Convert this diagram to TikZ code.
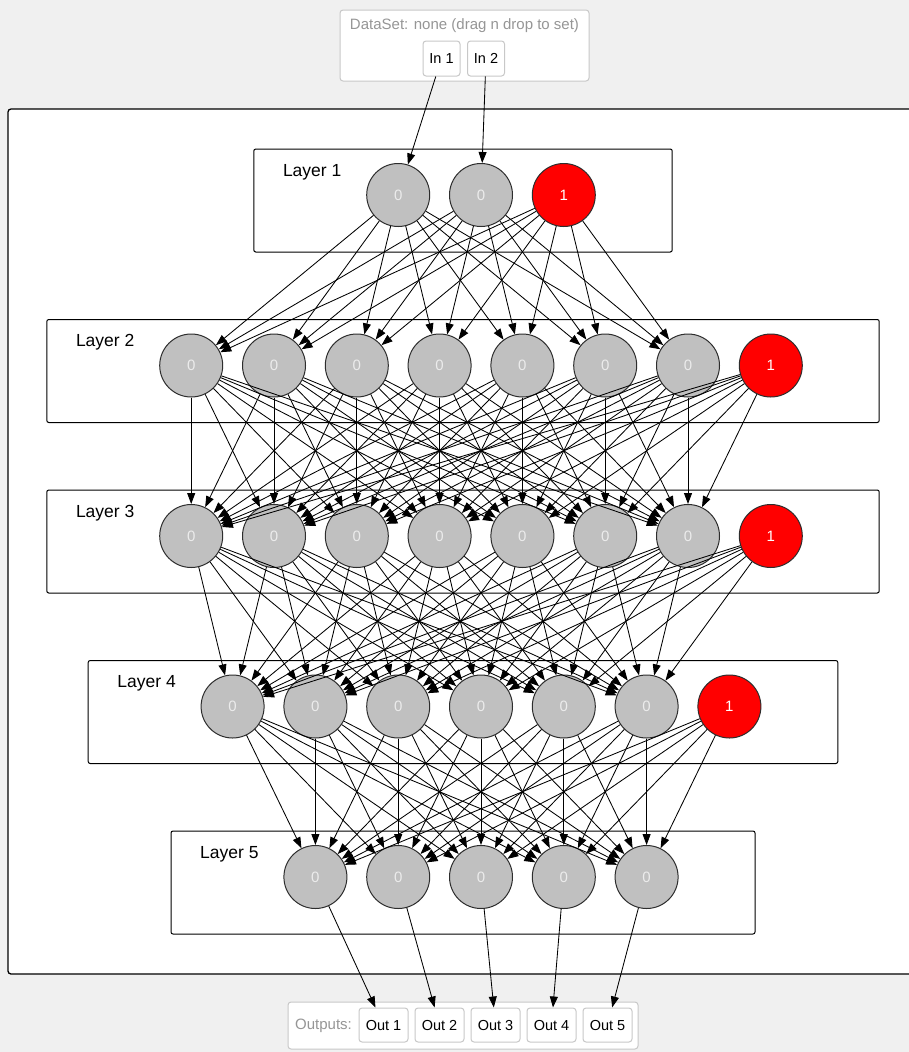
\documentclass[tikz,border=0pt]{standalone}
\usepackage{fontspec}
\setmainfont{Liberation Sans}
\usetikzlibrary{arrows.meta}
\definecolor{bg}{RGB}{240,240,240}
\definecolor{neuron}{RGB}{192,192,192}
\definecolor{bias}{RGB}{255,0,0}
\definecolor{ringgray}{RGB}{45,45,45}
\definecolor{boxgray}{RGB}{200,200,200}
\definecolor{labgray}{RGB}{150,150,150}
\definecolor{zerotext}{RGB}{236,236,236}
\tikzset{
  neuronnode/.style={circle, draw=ringgray, line width=1pt, fill=neuron, minimum size=63pt, inner sep=0pt, text=zerotext, font=\fontsize{15}{17}\selectfont},
  biasnode/.style={neuronnode, fill=bias, text=white},
  layerbox/.style={draw=black, line width=1pt, fill=white, rounded corners=2pt},
  outerbox/.style={draw=black, line width=1.3pt, fill=white, rounded corners=3pt},
  containerbox/.style={draw=boxgray, line width=1pt, fill=white, rounded corners=3pt},
  iobox/.style={draw=boxgray, line width=1pt, fill=white, rounded corners=3pt, inner sep=0pt, font=\fontsize{14.5}{17}\selectfont, text=black},
  graylabel/.style={text=labgray, font=\fontsize{15}{18}\selectfont, inner sep=0pt},
  layerlabel/.style={font=\fontsize{17.5}{20}\selectfont, anchor=west, inner sep=0pt},
  conn/.style={draw=black, line width=0.85pt, -{Triangle[length=11pt,width=8pt]}},
}
\begin{document}
\begin{tikzpicture}[x=1pt,y=-1pt]
\useasboundingbox (0,0) rectangle (909,1052);
\fill[bg] (0,0) rectangle (909,1052);
% outer network area
\draw[outerbox] (8,109) rectangle (930,974);
% input container
\draw[containerbox] (340,10) rectangle (589,81);
\node[graylabel] (dslabel) at (464.5,26) {DataSet: none (drag n drop to set)};
\node[iobox, minimum width=37pt, minimum height=35pt] (in1) at (441.5,58.5) {In 1};
\node[iobox, minimum width=37pt, minimum height=35pt] (in2) at (486,58.5) {In 2};
% output container
\draw[containerbox] (288,1002) rectangle (638,1049);
\node[graylabel] (outlabel) at (323.5,1026) {Outputs:};
\foreach \j/\x in {1/383.5, 2/439.5, 3/495.5, 4/551.5, 5/607.5} {
  \node[iobox, minimum width=49pt, minimum height=34pt] (out\j) at (\x,1025) {Out \j};
}
% layers
\foreach \k/\n/\b in {1/3/1, 2/8/1, 3/8/1, 4/7/1, 5/5/0} {
  \pgfmathsetmacro\T{149+170.5*(\k-1)}
  \pgfmathsetmacro\W{82.8*\n+170}
  \pgfmathsetmacro\xl{463-\W/2}
  \pgfmathsetmacro\xr{463+\W/2}
  \pgfmathsetmacro\yb{\T+103}
  \pgfmathsetmacro\ylab{\T+23}
  \pgfmathsetmacro\xlab{\xl+29}
  \pgfmathsetmacro\yn{\T+46}
  \draw[layerbox] (\xl,\T) rectangle (\xr,\yb);
  \node[layerlabel] (lab\k) at (\xlab,\ylab) {Layer \k};
  \pgfmathtruncatemacro\last{\n-1}
  \foreach \i in {0,...,\last} {
    \pgfmathsetmacro\x{481+82.8*(\i-(\n-1)/2)}
    \pgfmathtruncatemacro\isbias{(\b==1)&&(\i==\last)}
    \ifnum\isbias=1
      \node[biasnode] (L\k-\i) at (\x,\yn) {1};
    \else
      \node[neuronnode] (L\k-\i) at (\x,\yn) {0};
    \fi
  }
}
% connections between layers
\foreach \k/\ns/\mt in {1/2/6, 2/7/6, 3/7/5, 4/6/4} {
  \pgfmathtruncatemacro\kk{\k+1}
  \foreach \i in {0,...,\ns} {
    \foreach \j in {0,...,\mt} {
      \draw[conn] (L\k-\i) -- (L\kk-\j);
    }
  }
}
% inputs and outputs
\draw[conn] (in1) -- (L1-0);
\draw[conn] (in2) -- (L1-1);
\foreach \j in {0,...,4} {
  \pgfmathtruncatemacro\o{\j+1}
  \draw[conn] (L5-\j) -- (out\o);
}
\end{tikzpicture}
\end{document}
